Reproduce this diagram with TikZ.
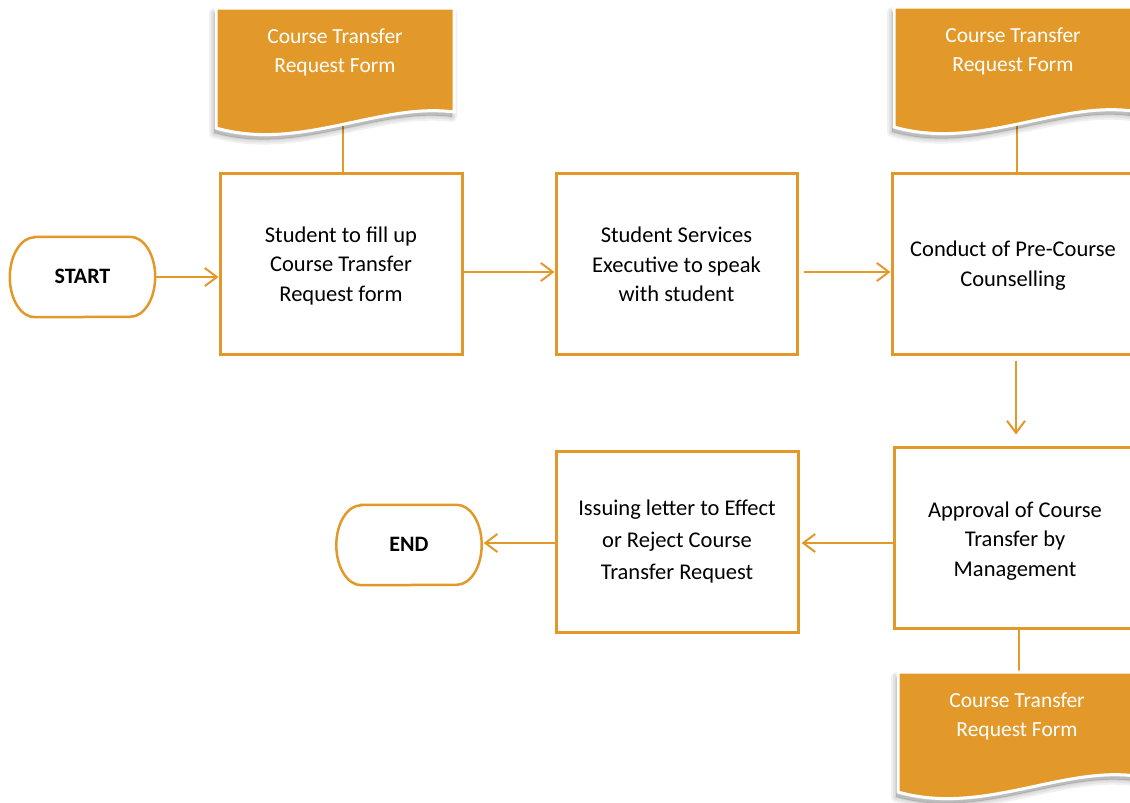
\documentclass[tikz,border=0pt]{standalone}
\usepackage{fontspec}
\setmainfont{Carlito}
\usetikzlibrary{arrows.meta,calc}
\definecolor{org}{RGB}{226,153,41}
\pgfdeclarelayer{bg}
\pgfsetlayers{bg,main}
\begin{document}
\begin{tikzpicture}[x=1pt,y=1pt,
  box/.style={draw=org,line width=3pt,fill=white,minimum width=242pt,minimum height=181pt,inner sep=0pt},
  btext/.style={align=center,inner sep=0pt,font=\fontsize{22.5}{29.5}\selectfont},
  btextwide/.style={align=center,inner sep=0pt,font=\fontsize{22.5}{32}\selectfont},
  term/.style={minimum width=145pt,minimum height=80pt,inner sep=0pt,font=\bfseries\fontsize{22}{26}\selectfont},
  termline/.style={draw=org,line width=2.5pt},
  arr/.style={draw=org,line width=2pt,-{Straight Barb[length=12pt,width=18pt]}},
  link/.style={draw=org,line width=2pt},
  doctext/.style={text=white,align=center,inner sep=0pt,font=\fontsize{21.5}{29}\selectfont},
  docshape/.pic={
    \foreach \w in {10,6,2}{
      \path[fill=black,draw=black,opacity=0.06,line width=\w pt,line join=round,shift={(-2,-5)}]
        (0,0) -- (238,0) -- (238,-104) .. controls (164,-94) and (84,-144) .. (0,-120) -- cycle;}
    \path[fill=org,draw=white,line width=3pt]
        (0,0) -- (238,0) -- (238,-104) .. controls (164,-94) and (84,-144) .. (0,-120) -- cycle;
  }
]
\useasboundingbox (0,0) rectangle (1130,-803);

% documents
\pic at (216,-8) {docshape};
\pic at (894,-7) {docshape};
\pic at (898,-672) {docshape};
\node[doctext] (d1) at (335,-52) {Course Transfer\\Request Form};
\node[doctext] (d2) at (1013,-51) {Course Transfer\\Request Form};
\node[doctext] (d3) at (1017,-716) {Course Transfer\\Request Form};

% process boxes
\node[box] (b1) at (341,-263.5) {};
\node[box,minimum width=241pt] (b2) at (676.5,-263.5) {};
\node[box] (b3) at (1013,-263.5) {};
\node[box] (b4) at (1015,-537.5) {};
\node[box] (b5) at (677,-541.5) {};
\node[btext] (t1) at ([yshift=-2pt]b1.center) {Student to fill up\\Course Transfer\\Request form};
\node[btext] (t2) at ([yshift=-1pt]b2.center) {Student Services\\Executive to speak\\with student};
\node[btext] (t3) at ([yshift=-2pt]b3.center) {Conduct of Pre-Course\\Counselling};
\node[btext] (t4) at ([yshift=-3.5pt]b4.center) {Approval of Course\\Transfer by\\Management};
\node[btextwide] (t5) at (b5.center) {Issuing letter to Effect\\or Reject Course\\Transfer Request};

% terminals
\node[term] (s) at (82.5,-277) {\raisebox{2pt}{START}};
\draw[termline] ([xshift=25pt]s.north west) -- ([xshift=-25pt]s.north east)
  arc[start angle=90,end angle=-90,x radius=25pt,y radius=40pt]
  -- ([xshift=25pt]s.south west)
  arc[start angle=270,end angle=90,x radius=25pt,y radius=40pt] -- cycle;
\node[term] (e) at (409,-545) {\raisebox{2pt}{END}};
\draw[termline] ([xshift=25pt]e.north west) -- ([xshift=-25pt]e.north east)
  arc[start angle=90,end angle=-90,x radius=25pt,y radius=40pt]
  -- ([xshift=25pt]e.south west)
  arc[start angle=270,end angle=90,x radius=25pt,y radius=40pt] -- cycle;

% links to documents (behind)
\begin{pgfonlayer}{bg}
\draw[link] ([xshift=2pt]b1.north) -- ([xshift=2pt]b1.north |- d1.center);
\draw[link] ([xshift=4pt]b3.north) -- ([xshift=4pt]b3.north |- d2.center);
\draw[link] ([xshift=4pt]b4.south) -- ([xshift=4pt]b4.south |- d3.center);
\end{pgfonlayer}

% arrows
\draw[arr] (s.east) -- (s.east -| b1.west);
\draw[arr] ($(b1.east)+(0,-8.5)$) -- ($(b1.east -| b2.west)+(0,-8.5)$);
\draw[arr] ($(b2.east)+(5,-8.5)$) -- ($(b2.east -| b3.west)+(0,-8.5)$);
\draw[arr] ($(b3.south -| b4.north)+(1,-5)$) -- ($(b4.north)+(1,11)$);
\draw[arr] ($(b4.west)+(0,-5.5)$) -- ($(b4.west -| b5.east)+(2,-5.5)$);
\draw[arr] ($(b5.west)+(0,-1.5)$) -- ($(b5.west -| e.east)+(2,-1.5)$);
\end{tikzpicture}
\end{document}
